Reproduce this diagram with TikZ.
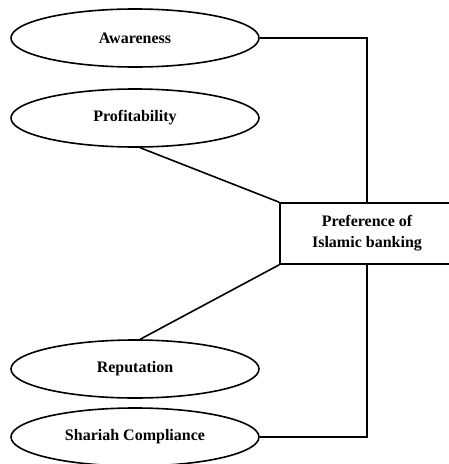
\documentclass[tikz,border=0pt]{standalone}
\usepackage{fontspec}
\setmainfont{Liberation Serif}
\usetikzlibrary{shapes.geometric, positioning}

\begin{document}
\begin{tikzpicture}[x=1pt, y=-1pt, line width=1.6pt,
    oval/.style={draw, ellipse, minimum width=248pt, minimum height=58pt, inner sep=0pt, font=\bfseries\fontsize{16}{18}\selectfont},
    prefbox/.style={draw, rectangle, minimum width=174pt, minimum height=61pt, align=center, font=\bfseries\fontsize{16}{21}\selectfont}]
    \useasboundingbox (0,0) rectangle (449,464);

    % Left: factors
    \node[oval] (aware) at (135,38) {Awareness};
    \node[oval] (profit) at (135,118) {Profitability};
    \node[oval] (repu) at (135,369) {Reputation};
    \node[oval] (shariah) at (135,437) {Shariah Compliance};

    % Right: preference
    \node[prefbox] (pref) at (367,233.5) {Preference of\\Islamic banking};

    \draw (aware.east) -| (pref.north);
    \draw (profit.-80) -- (pref.north west);
    \draw (repu.80) -- (pref.south west);
    \draw (shariah.east) -| (pref.south);
\end{tikzpicture}
\end{document}
